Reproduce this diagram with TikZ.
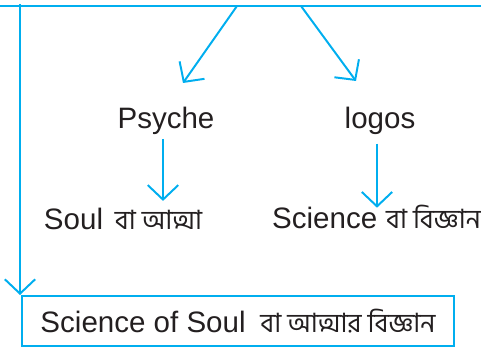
\documentclass[tikz,border=0pt]{standalone}
\usepackage{fontspec}
\usepackage{xcolor}
\usetikzlibrary{arrows.meta}
\setmainfont{Liberation Sans}
\newfontfamily\bn[Script=Bengali,Scale=0.9]{Hind Siliguri}
\definecolor{lineblue}{RGB}{0,174,239}
\definecolor{textgray}{RGB}{35,31,32}

\begin{document}
\begin{tikzpicture}
    [every node/.style={font=\fontsize{21}{25}\selectfont, text=textgray, inner sep=2pt},
     >={Straight Barb[length=3.6mm,width=7.6mm]},
     line width=1.4pt, lineblue]
    \useasboundingbox (0,0) rectangle (12.025,-8.725);
    % top line
    \coordinate (tl) at (0,-0.15);
    \coordinate (tr) at (12.025,-0.15);
    \draw (tl) -- (tr);
    % words
    \node[anchor=base] (psyche) at (4.15,-3.225) {Psyche};
    \node[anchor=base] (logos) at (9.5,-3.225) {logos};
    \node[anchor=base west, inner sep=0pt] (soul) at (1.075,-5.75) {Soul\hspace{0.4em}{\bn বা আত্মা}};
    \node[anchor=base west, inner sep=0pt] (science) at (6.78,-5.725) {Science\hspace{0.3em}{\bn বা বিজ্ঞান}};
    \node[draw=lineblue, minimum width=10.8cm, minimum height=1.25cm] (sos) at (5.95,-8.025)
        {Science of Soul\hspace{0.5em}{\bn বা আত্মার বিজ্ঞান}};
    % arrows
    \coordinate (a) at (5.925,-0.15);
    \coordinate (b) at (7.525,-0.15);
    \coordinate (pa) at (4.575,-2.075);
    \coordinate (la) at (8.9,-2.025);
    \coordinate (lt) at (0.5,-0.1);
    \draw[->] (a) -- (pa);
    \draw[->] (b) -- (la);
    \draw[->] ([xshift=-0.075cm]psyche.south) -- ++(0,-1.55);
    \draw[->] ([xshift=-0.075cm,yshift=-0.12cm]logos.south) -- ++(0,-1.6);
    \draw[->] (lt) -- (lt |- sos.north);
\end{tikzpicture}
\end{document}
